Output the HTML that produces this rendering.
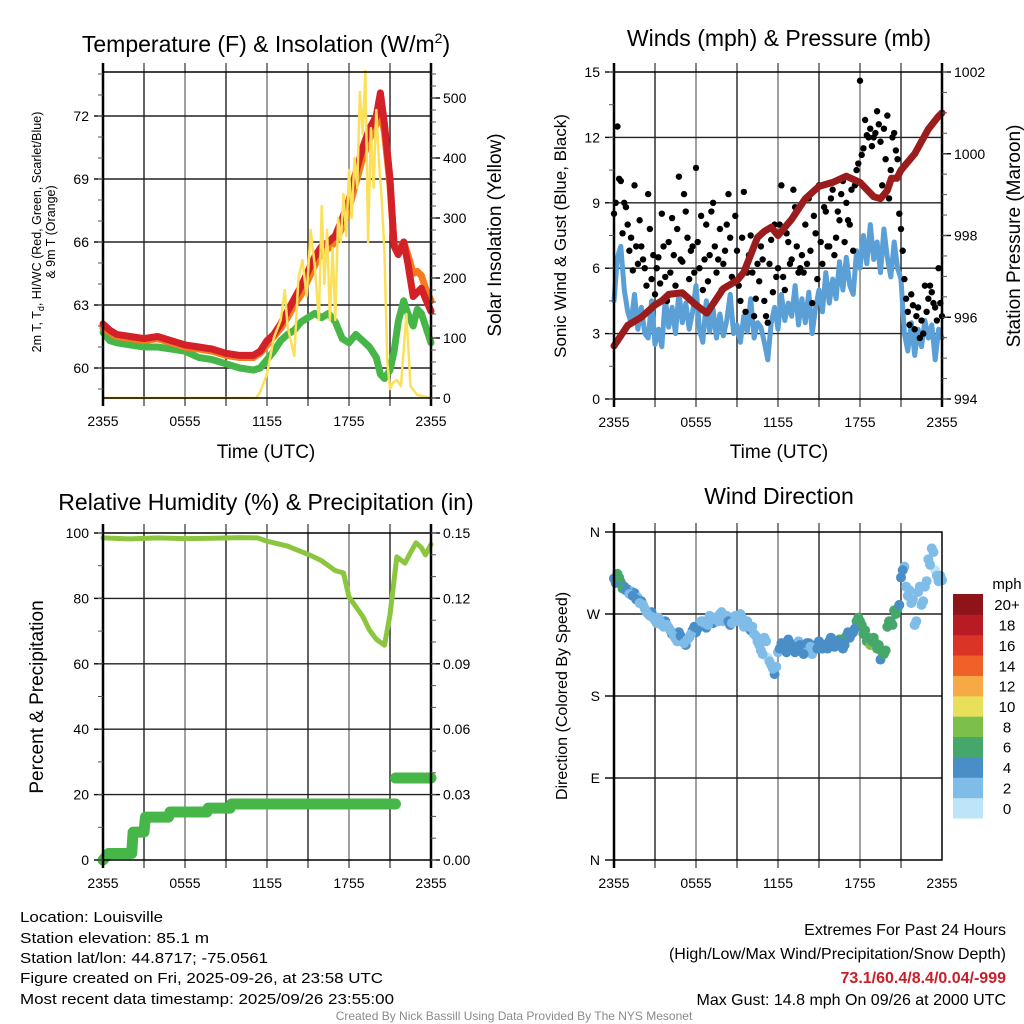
<!DOCTYPE html>
<html><head><meta charset="utf-8"><style>
html,body{margin:0;padding:0;background:#fff;}
svg{display:block;font-family:"Liberation Sans",sans-serif;}
</style></head><body>
<svg id="fig" width="1024" height="1024" viewBox="0 0 1024 1024">
<g id="layer-grid"></g>
<g id="layer-data"></g>
<g id="layer-axes"></g>
<g id="layer-text">
<text x="266" y="52" font-size="23" text-anchor="middle">Temperature (F) &amp; Insolation (W/m<tspan font-size="14" dy="-9">2</tspan><tspan dy="9">)</tspan></text>
<text x="779" y="46" font-size="23" text-anchor="middle">Winds (mph) &amp; Pressure (mb)</text>
<text x="266" y="510" font-size="23" text-anchor="middle">Relative Humidity (%) &amp; Precipitation (in)</text>
<text x="779" y="504" font-size="23" text-anchor="middle">Wind Direction</text>
<text x="266" y="458" font-size="19" text-anchor="middle">Time (UTC)</text>
<text x="779" y="458" font-size="19" text-anchor="middle">Time (UTC)</text>
<text transform="translate(41,232) rotate(-90)" font-size="12.5" text-anchor="middle">2m T, T<tspan font-size="9" dy="3">d</tspan><tspan dy="-3">, HI/WC (Red, Green, Scarlet/Blue)</tspan></text>
<text transform="translate(55,232) rotate(-90)" font-size="12.5" text-anchor="middle">&amp; 9m T (Orange)</text>
<text transform="translate(501,235) rotate(-90)" font-size="19" text-anchor="middle">Solar Insolation (Yellow)</text>
<text transform="translate(566,236) rotate(-90)" font-size="17" text-anchor="middle">Sonic Wind &amp; Gust (Blue, Black)</text>
<text transform="translate(1020,236) rotate(-90)" font-size="19" text-anchor="middle">Station Pressure (Maroon)</text>
<text transform="translate(43,697) rotate(-90)" font-size="19" text-anchor="middle">Percent &amp; Precipitation</text>
<text transform="translate(567,696) rotate(-90)" font-size="16" text-anchor="middle">Direction (Colored By Speed)</text>
<text x="1007" y="589" font-size="15" text-anchor="middle">mph</text>
<g font-size="15">
<text x="20" y="922" textLength="143" lengthAdjust="spacingAndGlyphs">Location: Louisville</text>
<text x="20" y="943" textLength="189" lengthAdjust="spacingAndGlyphs">Station elevation: 85.1 m</text>
<text x="20" y="963" textLength="248" lengthAdjust="spacingAndGlyphs">Station lat/lon: 44.8717; -75.0561</text>
<text x="20" y="983" textLength="363" lengthAdjust="spacingAndGlyphs">Figure created on Fri, 2025-09-26, at 23:58 UTC</text>
<text x="20" y="1004" textLength="374" lengthAdjust="spacingAndGlyphs">Most recent data timestamp: 2025/09/26 23:55:00</text>
</g>
<g font-size="16" text-anchor="end">
<text x="1006" y="935">Extremes For Past 24 Hours</text>
<text x="1006" y="959">(High/Low/Max Wind/Precipitation/Snow Depth)</text>
<text x="1006" y="983" fill="#c8202a" font-weight="bold">73.1/60.4/8.4/0.04/-999</text>
<text x="1006" y="1005">Max Gust: 14.8 mph On 09/26 at 2000 UTC</text>
</g>
<text x="514" y="1020" font-size="12" fill="#8a8a8a" text-anchor="middle">Created By Nick Bassill Using Data Provided By The NYS Mesonet</text>
</g>
</svg>
<script>
// ---------- DATA ----------
const timeTickLabels = ["2355","0555","1155","1755","2355"];
const tempTicks = [60,63,66,69,72];
const solarTicks = [0,100,200,300,400,500];
const windTicks = [0,3,6,9,12,15];
const pressTicks = [994,996,998,1000,1002];
const rhTicks = [0,20,40,60,80,100];
const precipTicks = [0,0.03,0.06,0.09,0.12,0.15];
const dirTickLabels = ["N","E","S","W","N"];
const speedBins = ["0","2","4","6","8","10","12","14","16","18","20+"];
const speedColors = ["#bde4f8","#7fbde8","#4a8ec8","#46a76b","#7cc04b","#e8e05a","#f7a945","#ef6129","#dc3327","#b81b23","#8f1419"];

const tempHours = [0,0.5,1,2,3,4,5,6,7,8,9,10,11,11.5,12,12.5,13,13.5,14,14.5,15,15.5,16,16.5,17,17.5,18,18.5,19,19.5,20,20.3,20.6,21,21.3,21.6,22,22.3,22.7,23,23.3,23.6,24];
const tempRed =    [62.1,61.8,61.6,61.5,61.4,61.5,61.3,61.1,61.0,60.9,60.7,60.6,60.6,60.8,61.3,61.6,62.1,62.7,63.3,63.9,64.6,65.3,65.8,66.0,66.3,67.1,68.0,69.3,70.5,71.4,72.0,73.1,71.6,69.0,65.8,65.4,66.0,65.0,63.4,63.6,63.8,63.3,62.7];
const tempOrange = [61.9,61.7,61.5,61.4,61.3,61.4,61.2,61.0,60.9,60.8,60.6,60.5,60.5,60.7,61.1,61.5,61.9,62.4,63.0,63.5,64.2,64.9,65.5,65.7,66.0,66.7,67.6,68.8,70.0,70.9,71.6,72.4,71.2,68.7,65.9,65.6,66.0,65.4,64.5,64.6,64.4,63.8,63.2];
const tempGreen =  [61.7,61.3,61.2,61.1,61.0,61.0,60.9,60.8,60.5,60.4,60.2,60.0,59.9,60.0,60.4,60.8,61.3,61.6,61.8,62.2,62.4,62.6,62.4,62.6,62.2,61.4,61.2,61.6,61.3,61.0,60.5,59.7,59.5,59.9,60.8,62.2,63.2,62.6,62.0,62.8,62.6,62.0,61.2];
const solarHours = [0,11.2,11.5,12,12.5,13,13.3,13.5,14,14.3,14.6,14.9,15.2,15.5,15.8,16,16.2,16.4,16.6,16.8,17,17.2,17.4,17.6,17.8,18,18.2,18.4,18.6,18.8,19,19.2,19.4,19.6,19.8,20,20.2,20.4,20.6,20.8,21,21.2,21.5,21.8,22,22.2,22.5,23,24];
const solarValues = [0,0,10,40,100,130,180,120,70,200,230,170,280,220,130,320,190,280,130,250,130,300,260,340,270,380,300,400,350,510,440,545,260,450,350,480,390,330,240,60,15,25,30,20,80,140,20,5,0];

const windSonic = [4.5,6.5,7.0,5.0, 4.0,3.5,4.8,3.2, 4.2,3.0,2.8,4.5, 2.5,3.2,2.4,4.6, 3.3,4.2,3.0,4.9, 3.5,4.4,3.2,4.0, 5.2,3.2,2.6,4.5, 3.1,4.1,2.8,3.9, 2.9,3.6,4.8,3.0, 3.4,2.6,3.8,3.1, 4.6,2.8,3.5,3.3, 2.6,1.8,3.5,4.2, 3.2,4.8,3.6,4.4, 3.8,5.2,3.4,4.6, 3.5,4.9,3.0,4.2, 5.0,4.0,5.8,4.4, 5.5,4.6,6.3,5.0, 6.5,5.2,4.8,6.8, 6.0,7.5,6.2,8.0, 6.4,7.2,5.8,7.8, 6.5,5.6,7.2,6.0, 5.5,3.0,2.2,3.5, 2.0,3.2,2.4,3.6, 2.8,3.4,1.8,3.2, 2.8];
const windGust = [8.5,12.5,10.0,9.0, 8.0,7.4,9.8,6.2, 7.0,6.0,9.4,5.5, 4.8,6.5,8.5,5.6, 7.2,8.3,5.2,10.2, 6.3,8.6,5.5,7.0, 10.6,6.0,5.0,8.0, 6.6,9.0,5.8,7.8, 6.2,8.0,7.4,5.4, 6.8,4.5,9.5,5.8, 7.5,3.8,6.2,7.0, 4.5,3.5,7.3,8.0, 6.0,9.8,5.0,7.2, 6.4,8.8,5.8,6.6, 8.0,9.2,4.4,7.6, 9.8,6.2,8.6,7.0, 9.6,7.4,8.2,10.0, 9.0,8.0,6.8,10.5, 14.6,11.5,12.1,12.4, 12.0,13.2,11.8,12.4, 13.0,10.5,12.2,11.0, 7.8,5.5,4.0,4.8, 3.2,4.2,3.6,5.2, 4.6,4.9,4.2,6.0, 3.8];
const windGust2 = [9.0,10.1,7.6,8.8, 6.8,5.9,7.0,8.2, 6.4,5.2,7.8,6.6, 6.0,5.3,7.0,4.5, 5.8,6.6,7.8,6.4, 9.4,7.4,6.8,5.8, 7.2,8.4,6.4,5.4, 8.6,7.0,6.4,5.0, 6.8,9.4,5.6,8.4, 5.2,7.4,4.0,6.6, 5.8,4.6,5.4,6.4, 3.8,6.2,4.9,5.6, 8.0,5.6,7.6,6.2, 9.6,7.0,6.0,5.8, 6.2,6.8,8.4,5.5, 7.2,8.8,7.0,9.2, 6.6,8.6,9.4,7.2, 8.2,9.6,9.8,10.8, 11.2,12.8,12.0,11.6, 12.2,12.6,9.8,11.0, 9.2,12.0,11.4,8.5, 6.8,4.6,3.4,4.3, 3.8,2.8,3.0,4.0, 5.2,4.4,3.6,4.4, 5.0];
const pressHours = [0,1,2,3,3.5,4,5,6,6.8,8,9,9.5,10.5,11,11.5,12,13,14,15,16,17,18,19,19.5,20,20.3,20.7,21,22,23,23.7,24];
const pressValues = [995.3,995.8,996.0,996.3,996.4,996.56,996.6,996.3,996.1,996.7,996.9,997.1,997.95,998.1,998.2,998.0,998.4,998.9,999.2,999.3,999.45,999.3,998.95,998.9,999.1,999.4,999.4,999.6,1000.0,1000.6,1000.9,1001.0];

const rhHours = [0,2,4,6,8,10,11.3,12,13.5,15.1,16,17,17.6,18,18.5,19,19.5,20,20.6,21,21.5,22.1,22.5,22.9,23.3,23.6,24];
const rhValues = [98.5,98.2,98.5,98.3,98.4,98.6,98.5,97.5,96.0,93.3,91.5,88.5,87.8,80.4,77.5,74.5,70.3,67.5,65.7,75,92.7,90.8,94,97,95.5,93.3,96.5];
const precipHours = [0,0.4,2.1,2.2,3.0,3.1,4.8,4.9,7.6,7.7,9.3,9.4,21.4];
const precipValues = [0,0.003,0.003,0.0128,0.0128,0.0197,0.0197,0.022,0.022,0.0238,0.0238,0.0257,0.0257];
const precipHours2 = [21.4,24];
const precipValues2 = [0.0376,0.0376];

const windDir = [309,314,305,300, 297,295,293,288, 284,276,270,272, 263,266,258,262, 255,248,243,250, 240,236,244,252, 250,258,262,255, 268,260,265,270, 262,268,258,264, 266,270,256,262, 252,248,240,230, 244,222,214,204, 228,238,232,242, 236,228,240,230, 234,238,226,236, 240,232,236,240, 238,235,242,232, 246,244,250,262, 262,248,240,236, 244,232,220,226, 256,262,274,276, 310,322,290,282, 258,294,280,300, 330,342,318,306, 307];
const windDir2 = [304,310,298,296, 292,290,286,282, 280,272,268,266, 260,262,256,258, 252,246,240,246, 238,242,248,256, 254,262,260,258, 264,266,262,272, 266,262,260,268, 262,266,260,256, 256,246,236,226, 240,218,210,212, 232,236,228,238, 232,234,236,226, 238,234,230,232, 236,236,232,244, 234,240,238,236, 250,248,254,266, 258,252,244,240, 238,236,228,230, 262,258,270,280, 318,300,296,286, 262,300,284,306, 324,338,312,312, 318];

// ---------- HELPERS ----------
const NS = "http://www.w3.org/2000/svg";
const gGrid = document.getElementById('layer-grid');
const gData = document.getElementById('layer-data');
const gAxes = document.getElementById('layer-axes');
function mk(tag, attrs, parent){
  const el = document.createElementNS(NS, tag);
  for (const k in attrs) el.setAttribute(k, attrs[k]);
  parent.appendChild(el);
  return el;
}
function linScale(d0,d1,r0,r1){ return v => r0 + (v-d0)/(d1-d0)*(r1-r0); }
function pathFrom(xs, ys, fx, fy){
  let d = "";
  for (let i=0;i<xs.length;i++) d += (i?"L":"M") + fx(xs[i]).toFixed(1) + "," + fy(ys[i]).toFixed(1);
  return d;
}
const qHours = windSonic.map((_, i) => i*0.25);

function panel(p){
  const {x0,x1,y0,y1,name} = p;
  const fx = linScale(0,24,x0,x1);
  for (let h=3; h<24; h+=3){
    const gl = mk('line',{x1:fx(h),x2:fx(h),y1:y0,y2:y1,stroke:(h%6===0)?'#777':'#222','stroke-width':1.4},gGrid);
    
    
    const tt = mk('line',{x1:fx(h),x2:fx(h),y1:y0-9,y2:y0,stroke:'#333','stroke-width':1.2},gAxes);
    
    
    const tb = mk('line',{x1:fx(h),x2:fx(h),y1:y1,y2:y1+8,stroke:'#333','stroke-width':1.2},gAxes);
    
    
  }
  p.hgrid.forEach(y=>{
    const gl = mk('line',{x1:x0,x2:x1,y1:y,y2:y,stroke:'#222','stroke-width':1.4},gGrid);
    
    
  });
  const fr = mk('rect',{x:x0,y:y0,width:x1-x0,height:y1-y0,fill:'none',stroke:'#000','stroke-width':1.5},gAxes);
  
  
  const la = mk('line',{x1:x0,x2:x0,y1:y0-9,y2:y1+8,stroke:'#000','stroke-width':2.5},gAxes);
  
  
  if (p.rightAxis){
    const ra = mk('line',{x1:x1,x2:x1,y1:y0-9,y2:y1+8,stroke:'#000','stroke-width':2.5},gAxes);
    
    
  }
  timeTickLabels.forEach((lab,i)=>{
    const t = mk('text',{x:fx(i*6),y:y1+28,'font-size':14,'text-anchor':'middle'},gAxes);
    t.textContent = lab;
    
    
  });
  return fx;
}
function yTicks(name, vals, labels, fy, xAxis, side, minorStep, lo, hi){
  vals.forEach((v,i)=>{
    const y = fy(v);
    const tk = mk('line',{x1:xAxis,x2:xAxis+(side<0?-9:9),y1:y,y2:y,stroke:'#000','stroke-width':1.4},gAxes);
    
    
    const t = mk('text',{x:xAxis+(side<0?-14:12),y:y+5,'font-size':14,'text-anchor':side<0?'end':'start'},gAxes);
    t.textContent = labels[i];
    
    
  });
  if (minorStep){
    for (let v=lo; v<=hi+1e-9; v+=minorStep){
      const y = fy(v);
      const mt = mk('line',{x1:xAxis,x2:xAxis+(side<0?-5:5),y1:y,y2:y,stroke:'#555','stroke-width':1},gAxes);
      
      
    }
  }
}
function line(name, xs, ys, fx, fy, color, w){
  const el = mk('path',{d:pathFrom(xs,ys,fx,fy),fill:'none',stroke:color,'stroke-width':w,'stroke-linejoin':'round','stroke-linecap':'round'},gData);
  
  
}
function dot(name, cx, cy, r, color){
  const el = mk('circle',{cx:cx,cy:cy,r:r,fill:color},gData);
  
  
}
function speedColor(v){ let b = Math.floor(v/2); if (b>10) b=10; if (b<0) b=0; return speedColors[b]; }

// ---------- PANEL 1: TEMPERATURE ----------
(function(){
  const p = {name:'temp',x0:103,x1:431,y0:72,y1:398,rightAxis:true};
  const fyT = linScale(60,72,368,116);
  const fyS = linScale(0,500,398,98);
  p.hgrid = tempTicks.map(fyT);
  const fx = panel(p);
  yTicks('temp-y', tempTicks, tempTicks.map(String), fyT, 103, -1, 1, 59, 74);
  yTicks('solar-y', solarTicks, solarTicks.map(String), fyS, 431, 1, 20, 0, 540);
  line('green-dewpoint-line', tempHours, tempGreen, fx, fyT, '#47b648', 7);
  line('orange-9m-temp-line', tempHours, tempOrange, fx, fyT, '#f47b20', 7);
  line('red-2m-temp-line', tempHours, tempRed, fx, fyT, '#d42027', 7);
  line('yellow-solar-line', solarHours, solarValues, fx, fyS, '#fbe15a', 2.5);
})();

// ---------- PANEL 2: WINDS ----------
(function(){
  const p = {name:'wind',x0:614,x1:942,y0:72,y1:399,rightAxis:true};
  const fyW = linScale(0,15,399,72);
  const fyP = linScale(994,1002,399,72);
  p.hgrid = [3,6,9,12].map(fyW);
  const fx = panel(p);
  yTicks('wind-y', windTicks, windTicks.map(String), fyW, 614, -1, 1.5, 0, 15);
  yTicks('pressure-y', pressTicks, pressTicks.map(String), fyP, 942, 1, 0.5, 994, 1002);
  line('sonic-wind-line', qHours, windSonic, fx, fyW, '#5a9fd6', 5);
  windGust.forEach((g,i)=> dot('gust-dot', fx(qHours[i]), fyW(g), 3.2, '#000'));
  windGust2.forEach((g,i)=> { if (i<96) dot('gust-dot', fx(qHours[i]+0.125), fyW(g), 3.2, '#000'); });
  line('pressure-line', pressHours, pressValues, fx, fyP, '#9b1c1c', 7);
})();

// ---------- PANEL 3: RH ----------
(function(){
  const p = {name:'rh',x0:103,x1:431,y0:533,y1:860,rightAxis:true};
  const fyR = linScale(0,100,860,533);
  const fyPr = linScale(0,0.15,860,533);
  p.hgrid = [20,40,60,80].map(fyR);
  const fx = panel(p);
  yTicks('rh-y', rhTicks, rhTicks.map(String), fyR, 103, -1, 10, 0, 100);
  yTicks('precip-y', precipTicks, precipTicks.map(v=>v.toFixed(2)), fyPr, 431, 1, 0.01, 0, 0.15);
  line('rh-line', rhHours, rhValues, fx, fyR, '#8cc63f', 5);
  line('precip-line', precipHours, precipValues, fx, fyPr, '#47b648', 11);
  line('precip-line-2', precipHours2, precipValues2, fx, fyPr, '#47b648', 11);
})();

// ---------- PANEL 4: DIRECTION ----------
(function(){
  const p = {name:'dir',x0:614,x1:942,y0:532,y1:860,rightAxis:false};
  const fyD = linScale(0,360,860,532);
  p.hgrid = [90,180,270].map(fyD);
  const fx = panel(p);
  yTicks('dir-y', [0,90,180,270,360], dirTickLabels, fyD, 614, -1, 0, 0, 0);
  windDir.forEach((d,i)=> dot('direction-dot', fx(qHours[i]), fyD(d), 5, speedColor(windSonic[i])));
  windDir2.forEach((d,i)=> { if (i<96) dot('direction-dot', fx(qHours[i]+0.125), fyD(d), 5, speedColor((windSonic[i]+windSonic[i+1])/2)); });
  const segH = 224/11;
  speedColors.forEach((c,i)=>{
    const y = 594 + (10-i)*segH;
    const r = mk('rect',{x:953,y:y,width:30,height:segH+0.5,fill:c},gAxes);
    
    
    const t = mk('text',{x:1007,y:y+segH/2+6,'font-size':15,'text-anchor':'middle'},gAxes);
    t.textContent = speedBins[i];
    
    
  });
})();
</script>
</body></html>
